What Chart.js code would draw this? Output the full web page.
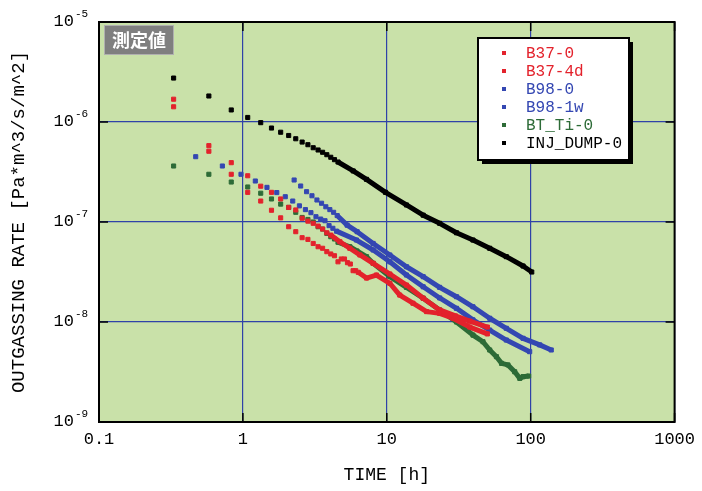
<!DOCTYPE html>
<html>
<head>
<meta charset="utf-8">
<script src="https://cdn.jsdelivr.net/npm/chart.js@4.4.1/dist/chart.umd.min.js"></script>
<style>
body { margin: 0; background: #fff; }
</style>
</head>
<body>
<canvas id="myChart" width="702" height="491"></canvas>
<script>
// series names (legend order)
var labels = ["B37-0", "B37-4d", "B98-0", "B98-1w", "BT_Ti-0", "INJ_DUMP-0"];

// time [h] / outgassing rate
var b37_0_t = [0.33, 0.58, 0.83, 1.08, 1.33, 1.58, 1.83, 2.08, 2.33, 2.58, 2.83, 3.08, 3.33, 3.58, 3.83, 4.08,
               4.72, 5.53, 6.5, 8.04, 10.5, 13.7, 17.9, 23.3, 30, 37.7, 50];
var b37_0_v = [1.69e-6, 5.8e-7, 3.92e-7, 2.9e-7, 2.28e-7, 1.98e-7, 1.7e-7, 1.4e-7, 1.32e-7, 1.09e-7, 1.02e-7, 9.7e-8, 9.1e-8, 8.5e-8, 7.8e-8, 7.4e-8,
               6.35e-8, 5.46e-8, 4.68e-8, 3.86e-8, 3.02e-8, 2.34e-8, 1.73e-8, 1.32e-8, 1.15e-8, 1.02e-8, 8.9e-9];

var b37_4d_t = [0.33, 0.58, 0.83, 1.08, 1.33, 1.58, 1.83, 2.08, 2.33, 2.58, 2.83, 3.08, 3.33, 3.58, 3.83, 4.08, 4.33, 4.58, 4.83, 5.08, 5.33, 5.58, 5.83, 6.08, 6.33,
                7.23, 8.47, 10.5, 12.3, 15.2, 18.9, 23.3, 28.8, 37.7, 50];
var b37_4d_v = [1.42e-6, 5.1e-7, 3.0e-7, 1.98e-7, 1.62e-7, 1.31e-7, 1.1e-7, 8.97e-8, 8.0e-8, 6.97e-8, 6.7e-8, 6.1e-8, 5.66e-8, 5.46e-8, 5.05e-8, 4.79e-8, 4.6e-8, 4.0e-8, 4.27e-8, 4.27e-8, 3.92e-8, 3.8e-8, 3.26e-8, 3.26e-8, 3.14e-8,
                2.75e-8, 2.95e-8, 2.44e-8, 1.86e-8, 1.54e-8, 1.27e-8, 1.22e-8, 1.09e-8, 8.9e-9, 7.6e-9];

var b98_0_t = [0.47, 0.72, 0.97, 1.22, 1.47, 1.72, 1.97, 2.22, 2.47, 2.72, 2.97, 3.22, 3.47, 3.72, 3.97, 4.22, 4.47,
               6.16, 8.04, 10.5, 13.7, 17.9, 23.3, 30.5, 39.7, 51.9, 67.7, 98.4];
var b98_0_v = [4.5e-7, 3.63e-7, 3.0e-7, 2.57e-7, 2.22e-7, 1.97e-7, 1.79e-7, 1.62e-7, 1.45e-7, 1.33e-7, 1.24e-7, 1.13e-7, 1.07e-7, 1.03e-7, 9.2e-8, 8.65e-8, 8.1e-8,
               6.6e-8, 5.25e-8, 4.0e-8, 2.95e-8, 2.25e-8, 1.74e-8, 1.37e-8, 1.05e-8, 8.3e-9, 6.6e-9, 5.05e-9];

var b98_1w_t = [2.27, 2.52, 2.77, 3.02, 3.27, 3.52, 3.77, 4.02, 4.27, 4.52,
                5.3, 6.22, 8.04, 10.5, 13.7, 17.9, 23.3, 30.5, 39.7, 51.9, 67.7, 88.5, 115.5, 139];
var b98_1w_v = [2.63e-7, 2.29e-7, 2.01e-7, 1.83e-7, 1.66e-7, 1.54e-7, 1.42e-7, 1.33e-7, 1.25e-7, 1.16e-7,
                9.3e-8, 8.0e-8, 6.1e-8, 4.68e-8, 3.57e-8, 2.84e-8, 2.22e-8, 1.79e-8, 1.42e-8, 1.09e-8, 8.65e-9, 6.87e-9, 5.9e-9, 5.25e-9];

var btti_0_t = [0.33, 0.58, 0.83, 1.08, 1.33, 1.58, 1.83, 2.08, 2.33, 2.58, 2.83, 3.08, 3.33, 3.58, 3.83, 4.08, 4.33, 4.58,
                5.53, 6.2, 7.23, 8.04, 10.5, 13.7, 17.9, 23.3, 30.5, 39.7, 46.6, 51.9, 57.8, 62.7, 69.5, 77.4, 84, 88.5, 96.8];
var btti_0_v = [3.63e-7, 3.0e-7, 2.51e-7, 2.24e-7, 1.94e-7, 1.7e-7, 1.51e-7, 1.4e-7, 1.25e-7, 1.11e-7, 1.06e-7, 1.0e-7, 8.97e-8, 8.5e-8, 7.7e-8, 7.13e-8, 6.76e-8, 6.27e-8,
                5.66e-8, 5.13e-8, 4.5e-8, 3.86e-8, 2.84e-8, 2.22e-8, 1.73e-8, 1.32e-8, 1.0e-8, 7.4e-9, 6.35e-9, 5.25e-9, 4.5e-9, 3.86e-9, 3.72e-9, 3.18e-9, 2.73e-9, 2.84e-9, 2.88e-9];

var inj_t = [0.33, 0.58, 0.83, 1.08, 1.33, 1.58, 1.83, 2.08, 2.33, 2.58, 2.83, 3.08, 3.33, 3.58, 3.83, 4.08, 4.33, 4.58,
             5.84, 7.23, 9.8, 13.7, 17.9, 23.3, 30.5, 39.7, 51.9, 67.7, 88.5, 101.7];
var inj_v = [2.75e-6, 1.82e-6, 1.32e-6, 1.11e-6, 9.85e-7, 8.7e-7, 7.9e-7, 7.33e-7, 6.8e-7, 6.3e-7, 5.93e-7, 5.53e-7, 5.25e-7, 4.98e-7, 4.71e-7, 4.44e-7, 4.2e-7, 3.98e-7,
             3.24e-7, 2.67e-7, 1.98e-7, 1.48e-7, 1.17e-7, 9.7e-8, 7.8e-8, 6.6e-8, 5.46e-8, 4.5e-8, 3.63e-8, 3.16e-8];

// axis ticks
var xTicks = [0.1, 1, 10, 100, 1000];
var yTicks = [1e-9, 1e-8, 1e-7, 1e-6, 1e-5];
var boxLabel = "測定値";

var times  = [b37_0_t, b37_4d_t, b98_0_t, b98_1w_t, btti_0_t, inj_t];
var values = [b37_0_v, b37_4d_v, b98_0_v, b98_1w_v, btti_0_v, inj_v];
var colors = ["#e3222c", "#e3222c", "#3447b2", "#3447b2", "#2d6b37", "#000000"];

var monoFont = "'Liberation Mono', 'DejaVu Sans Mono', monospace";
var gridColor = '#2f42a8';

function makeDataset(i){
    var pts = [];
    for(var k = 0; k < times[i].length; k++){
        pts.push({x: times[i][k], y: values[i][k]});
    }
    var col = colors[i];
    return {
        label: labels[i],
        data: pts,
        showLine: true,
        borderColor: col,
        backgroundColor: col,
        borderWidth: 5,
        borderJoinStyle: 'round',
        pointStyle: 'rect',
        pointRadius: 2.9,
        pointBorderWidth: 1,
        pointBorderColor: col,
        pointBackgroundColor: col,
        // sparse early readings are separate marks, the dense tail reads as a band
        segment: {
            borderColor: function(c){
                return (c.p1.parsed.x - c.p0.parsed.x > 0.3) ? col : 'rgba(0,0,0,0)';
            }
        }
    };
}

var datasets = [];
for(var i = 0; i < labels.length; i++) datasets.push(makeDataset(i));

var framePlugin = {
    id: 'framePlugin',
    beforeDraw: function(chart){
        var a = chart.chartArea, c = chart.ctx;
        c.save();
        c.fillStyle = '#c9e1a9';
        c.fillRect(a.left, a.top, a.right - a.left, a.bottom - a.top);
        c.restore();
    },
    afterDatasetsDraw: function(chart){
        var a = chart.chartArea, c = chart.ctx;
        var xs = chart.scales.x, ys = chart.scales.y;
        c.save();
        // inner tick marks
        c.strokeStyle = '#000';
        c.lineWidth = 1.5;
        c.beginPath();
        xs.ticks.forEach(function(t){
            var px = xs.getPixelForValue(t.value);
            c.moveTo(px, a.top); c.lineTo(px, a.top + 9);
            c.moveTo(px, a.bottom); c.lineTo(px, a.bottom - 9);
        });
        ys.ticks.forEach(function(t){
            var py = ys.getPixelForValue(t.value);
            c.moveTo(a.left, py); c.lineTo(a.left + 9, py);
            c.moveTo(a.right, py); c.lineTo(a.right - 9, py);
        });
        c.stroke();
        // frame
        c.lineWidth = 2;
        c.strokeRect(a.left, a.top, a.right - a.left, a.bottom - a.top);

        // y tick labels 10^n
        c.fillStyle = '#000';
        ys.ticks.forEach(function(t){
            var py = ys.getPixelForValue(t.value);
            var ex = Math.round(Math.log10(t.value));
            c.font = '17px ' + monoFont;
            c.textAlign = 'right';
            c.textBaseline = 'alphabetic';
            c.fillText('10', 74, py + 4);
            c.font = '11px ' + monoFont;
            c.textAlign = 'left';
            c.fillText(String(ex), 75, py - 5);
        });

        // 測定値 box
        c.fillStyle = '#7f7f7f';
        c.fillRect(104, 25, 70, 30);
        c.strokeStyle = '#b0b0b0';
        c.lineWidth = 1;
        c.strokeRect(104.5, 25.5, 69, 29);
        c.fillStyle = '#fff';
        c.font = "bold 18px 'Noto Sans CJK JP'";
        c.textAlign = 'center';
        c.textBaseline = 'middle';
        c.fillText(boxLabel, 139, 40);

        // legend
        var lx = 478, ly = 38, lw = 151, lh = 122;
        c.fillStyle = '#000';
        c.fillRect(lx + 4, ly + 4, lw, lh);
        c.fillStyle = '#fff';
        c.fillRect(lx, ly, lw, lh);
        c.strokeStyle = '#000';
        c.lineWidth = 2;
        c.strokeRect(lx, ly, lw, lh);
        chart.data.datasets.forEach(function(ds, k){
            var ry = 53 + k * 18;
            c.fillStyle = ds.borderColor;
            c.fillRect(502, ry - 2, 4, 4);
            c.font = '16px ' + monoFont;
            c.textAlign = 'left';
            c.textBaseline = 'middle';
            c.fillText(ds.label, 526, ry + 1);
        });
        c.restore();
    }
};

var chart = new Chart(document.getElementById("myChart"), {
    type: 'scatter',
    data: { datasets: datasets },
    options: {
        responsive: false,
        animation: false,
        layout: { padding: { top: 22, right: 27, left: 0, bottom: 0 } },
        plugins: {
            legend: { display: false },
            tooltip: { enabled: false }
        },
        scales: {
            x: {
                type: 'logarithmic',
                min: 0.1,
                max: 1000,
                afterBuildTicks: function(scale){
                    scale.ticks = xTicks.map(function(v){ return {value: v}; });
                },
                afterFit: function(scale){ scale.height = 69; },
                grid: { color: gridColor, lineWidth: 1.2, drawTicks: false },
                border: { display: false },
                ticks: {
                    color: '#000',
                    font: { family: monoFont, size: 17 },
                    padding: 7,
                    maxRotation: 0,
                    autoSkip: false,
                    callback: function(v){ return String(v); }
                },
                title: {
                    display: true,
                    text: 'TIME [h]',
                    color: '#000',
                    font: { family: monoFont, size: 18 },
                    padding: 5
                }
            },
            y: {
                type: 'logarithmic',
                min: 1e-9,
                max: 1e-5,
                afterBuildTicks: function(scale){
                    scale.ticks = yTicks.map(function(v){ return {value: v}; });
                },
                afterFit: function(scale){ scale.width = 99; },
                grid: { color: gridColor, lineWidth: 1.2, drawTicks: false },
                border: { display: false },
                ticks: { display: false },
                title: {
                    display: true,
                    text: 'OUTGASSING RATE [Pa*m^3/s/m^2]',
                    color: '#000',
                    font: { family: monoFont, size: 19 },
                    padding: 8
                }
            }
        }
    },
    plugins: [framePlugin]
});
</script>
</body>
</html>
